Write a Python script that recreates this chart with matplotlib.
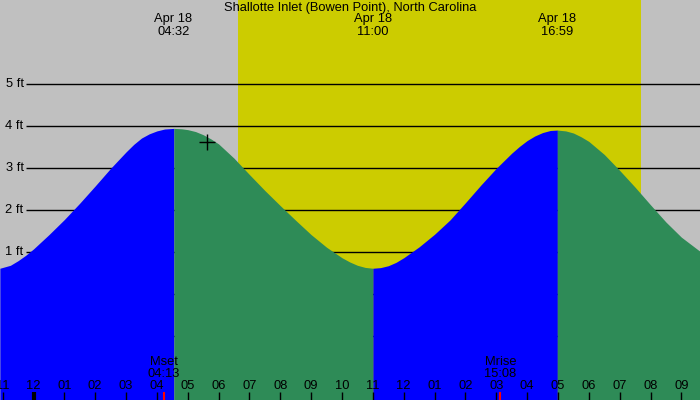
import numpy as np
import matplotlib
matplotlib.use("Agg")
import matplotlib.pyplot as plt
import matplotlib.transforms as mtransforms

plt.rcParams['font.family'] = ['Liberation Sans', 'DejaVu Sans']

title = "Shallotte Inlet (Bowen Point), North Carolina"

# tide heights (ft), hours from midnight Apr 18
tide_hours = [-1.09, -0.75, -0.5, -0.25, 0, 0.5, 1, 1.5, 2, 2.5, 3, 3.25, 3.5, 3.75, 4, 4.25, 4.55,
              4.8, 5, 5.25, 5.5, 5.75, 6, 6.5, 7, 7.5, 8, 8.5, 9, 9.5, 10, 10.25, 10.5, 10.75, 11.0,
              11.25, 11.5, 11.75, 12, 12.5, 13, 13.5, 14, 14.5, 15, 15.5, 15.75, 16, 16.25, 16.5,
              16.75, 16.98, 17.25, 17.5, 17.75, 18, 18.5, 19, 19.5, 20, 20.5, 21, 21.61]
tide_ft = [0.62, 0.69, 0.80, 0.93, 1.08, 1.42, 1.78, 2.17, 2.58, 3.00, 3.39, 3.57, 3.72, 3.82, 3.89, 3.935, 3.95,
           3.94, 3.92, 3.875, 3.80, 3.70, 3.58, 3.24, 2.85, 2.47, 2.11, 1.76, 1.42, 1.12, 0.87, 0.77, 0.69, 0.64, 0.62,
           0.635, 0.68, 0.76, 0.87, 1.13, 1.43, 1.77, 2.18, 2.60, 3.00, 3.36, 3.52, 3.66, 3.77, 3.85,
           3.90, 3.91, 3.89, 3.84, 3.75, 3.64, 3.33, 2.95, 2.55, 2.13, 1.72, 1.36, 1.02]

# extremes labelled at top
extreme_hours = [4.533, 11.0, 16.983]
extreme_labels = ["04:32", "11:00", "16:59"]
date_label = "Apr 18"

# daylight
sunrise_h = 6.63
sunset_h = 19.69

# moon events
moon_hours = [4.217, 15.133]
moon_names = ["Mset", "Mrise"]
moon_times = ["04:13", "15:08"]

# current marker
now_h, now_ft = 5.63, 3.63

levels = [-1, 0, 1, 2, 3, 4, 5]
hour_ticks = list(range(-1, 22))

XMIN, XMAX = -1.086, 21.604
YMIN, YMAX = -2.517, 7.007

GRAY = "#C0C0C0"
YELLOW = "#CCCC00"
BLUE = "#0000FF"
GREEN = "#2E8B57"
FS = 9.3

fig = plt.figure(figsize=(7, 4), dpi=100)
ax = fig.add_axes([0, 0, 1, 1])
ax.set_xlim(XMIN, XMAX)
ax.set_ylim(YMIN, YMAX)
ax.set_facecolor(GRAY)
for s in ax.spines.values():
    s.set_visible(False)
ax.set_xticks([])
ax.set_yticks([])

ax.axvspan(sunrise_h, sunset_h, color=YELLOW, zorder=1, lw=0)

# level lines
px = lambda p: p / 700.0
ax.hlines(levels, XMIN + (XMAX - XMIN) * px(26), XMAX, colors="black", lw=1, zorder=2)
ytrans = mtransforms.blended_transform_factory(ax.transAxes, ax.transData)
for lv in levels:
    ax.text(px(23.5), lv, f"{lv} ft", ha="right", va="center", fontsize=FS,
            transform=ytrans, zorder=2)

# tide fill coloured by rising / falling
t = np.array(tide_hours)
h = np.array(tide_ft)
d = np.sign(np.diff(h))
breaks = [0] + [i for i in range(1, len(d)) if d[i] != d[i - 1]] + [len(h) - 1]
for a, b in zip(breaks[:-1], breaks[1:]):
    col = BLUE if h[b] > h[a] else GREEN
    ax.fill_between(t[a:b + 1], YMIN, h[a:b + 1], color=col, lw=0, zorder=3,
                    antialiased=False)

ax.plot([now_h], [now_ft], marker="+", ms=11, mew=1, color="black", zorder=5)

# top labels
def ypx(p):
    return 1 - p / 400.0

ax.text(0.5, ypx(8), title, ha="center", va="center", fontsize=FS, transform=ax.transAxes)
xtrans = mtransforms.blended_transform_factory(ax.transData, ax.transAxes)
for eh, el in zip(extreme_hours, extreme_labels):
    ax.text(eh, ypx(19), date_label, ha="center", va="center", fontsize=FS, transform=xtrans)
    ax.text(eh, ypx(32), el, ha="center", va="center", fontsize=FS, transform=xtrans)

# hour ticks and labels
for hr in hour_ticks:
    lab = f"{(hr % 12) or 12:02d}"
    ax.text(hr, ypx(386), lab, ha="center", va="center", fontsize=FS, transform=xtrans, zorder=6)
    ax.vlines(hr, ypx(400), ypx(392), colors="black", lw=3 if hr == 0 else 1,
              transform=xtrans, zorder=6)

for mh, mn, mt in zip(moon_hours, moon_names, moon_times):
    ax.vlines(mh, ypx(400), ypx(392), colors="red", lw=1.5, transform=xtrans, zorder=6)
    ax.text(mh, ypx(362), mn, ha="center", va="center", fontsize=FS, transform=xtrans, zorder=6)
    ax.text(mh, ypx(374), mt, ha="center", va="center", fontsize=FS, transform=xtrans, zorder=6)

fig.savefig("out.png", dpi=100)
